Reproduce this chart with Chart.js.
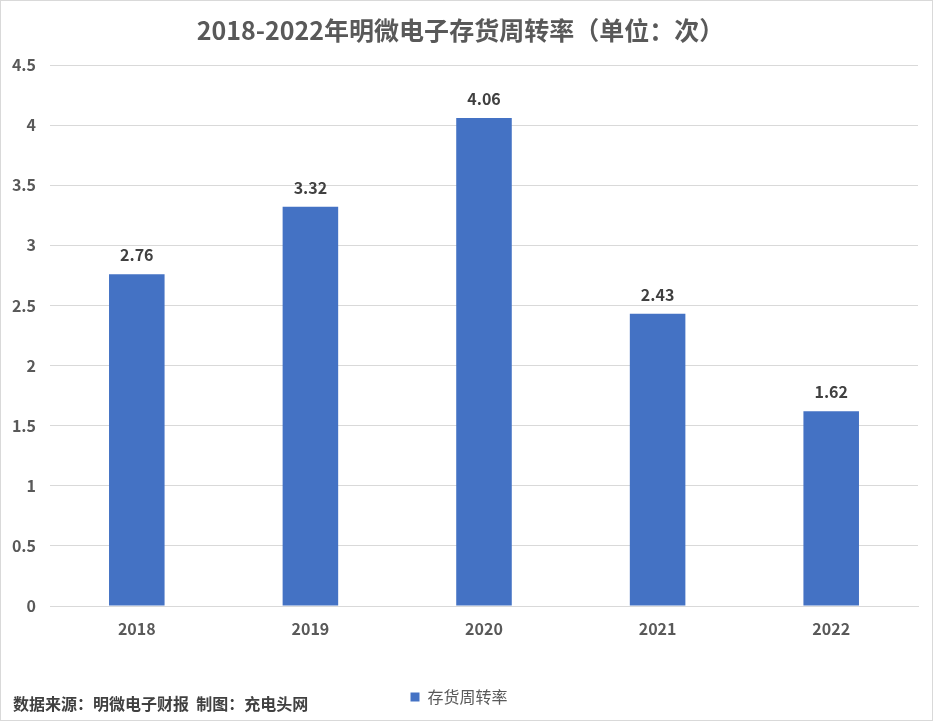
<!DOCTYPE html>
<html>
<head>
<meta charset="utf-8">
<script src="https://cdn.jsdelivr.net/npm/chart.js@4"></script>
<style>
  body { margin: 0; background: #fff; }
  canvas { display: block; }
</style>
</head>
<body>
<canvas id="myChart" width="933" height="721"></canvas>
<script>
var years = ['2018', '2019', '2020', '2021', '2022'];
var turnover = [2.76, 3.32, 4.06, 2.43, 1.62];
var seriesName = '存货周转率';
var titleText = '2018-2022年明微电子存货周转率（单位：次）';
var sourceText = '数据来源：明微电子财报  制图：充电头网';

var FONT = '"Noto Sans CJK SC", "Liberation Sans", sans-serif';

var decor = {
    id: 'decor',
    afterDraw: function (chart) {
        var ctx = chart.ctx;
        ctx.save();
        // outer border
        ctx.strokeStyle = '#d9d9d9';
        ctx.lineWidth = 1;
        ctx.strokeRect(0.5, 0.5, chart.width - 1, chart.height - 1);
        // title
        ctx.fillStyle = '#595959';
        ctx.font = 'bold 25px ' + FONT;
        ctx.textAlign = 'center';
        ctx.textBaseline = 'middle';
        ctx.fillText(titleText, chart.width / 2 - 6, 30);
        // source
        ctx.fillStyle = '#404040';
        ctx.font = 'bold 16px ' + FONT;
        ctx.textAlign = 'left';
        ctx.fillText(sourceText, 13, 704);
        // value labels
        var meta = chart.getDatasetMeta(0);
        ctx.fillStyle = '#404040';
        ctx.font = 'bold 16px ' + FONT;
        ctx.textAlign = 'center';
        meta.data.forEach(function (bar, i) {
            ctx.fillText(turnover[i].toFixed(2), bar.x, bar.y - 19);
        });
        ctx.restore();
    }
};

var ctx = document.getElementById('myChart').getContext('2d');
var myChart = new Chart(ctx, {
    type: 'bar',
    data: {
        labels: years,
        datasets: [{
            label: seriesName,
            data: turnover,
            backgroundColor: '#4472C4',
            categoryPercentage: 1,
            barPercentage: 0.32
        }]
    },
    options: {
        responsive: false,
        animation: false,
        devicePixelRatio: 1,
        layout: { padding: { top: 65, right: 15, bottom: 6, left: 0 } },
        plugins: {
            title: { display: false },
            tooltip: { enabled: false },
            legend: {
                position: 'bottom',
                labels: {
                    boxWidth: 9,
                    boxHeight: 9,
                    padding: 10,
                    color: '#595959',
                    font: { family: FONT, size: 16 }
                }
            }
        },
        scales: {
            x: {
                grid: { display: false },
                border: { color: '#d9d9d9' },
                ticks: {
                    padding: 5,
                    color: '#595959',
                    font: { family: FONT, size: 16, weight: 'bold' }
                },
                afterFit: function (scale) { scale.height = 73; }
            },
            y: {
                min: 0,
                max: 4.5,
                ticks: {
                    stepSize: 0.5,
                    padding: 14,
                    color: '#595959',
                    font: { family: FONT, size: 16, weight: 'bold' },
                    callback: function (value) { return String(value); }
                },
                grid: { color: '#d9d9d9', drawTicks: false },
                border: { display: false },
                afterFit: function (scale) { scale.width = 50; }
            }
        }
    },
    plugins: [decor]
});
</script>
</body>
</html>
